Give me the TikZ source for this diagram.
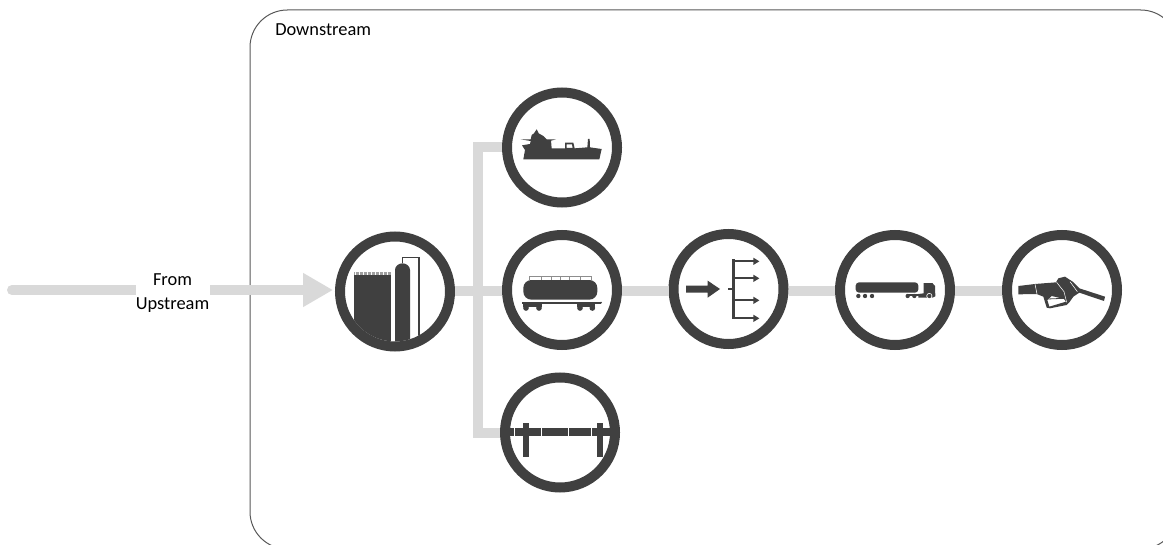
\documentclass[tikz,border=0pt]{standalone}
\usepackage{fontspec}
\setmainfont{Carlito}
\usetikzlibrary{arrows.meta,calc}
\definecolor{dk}{HTML}{404040}
\definecolor{flowc}{HTML}{D9D9D9}
\definecolor{boxc}{HTML}{595959}
\tikzset{
  px/.style={x=0.75pt,y=-0.75pt},
  zoomed/.style 2 args={shift={(#1,#2)},x=0.25pt,y=-0.25pt},
  ring/.style={circle,draw=dk,fill=white,line width=7.5pt,minimum size=82.5pt,inner sep=0pt,outer sep=3.75pt},
  flow/.style={draw=flowc,line width=7.5pt},
  lbl/.style={font=\fontsize{13.8}{17.5}\selectfont,text=black},
  ico/.style={fill=dk,draw=none},
  thinl/.style={draw=dk,line width=0.9pt},
}
\begin{document}
\begin{tikzpicture}[px]
\useasboundingbox (0,0) rectangle (1163,545);
\fill[white] (0,0) rectangle (1163,545);
% frame
\draw[boxc,line width=0.75pt,rounded corners=28pt] (250,10) rectangle (1178,549);
\node[lbl,anchor=west,inner sep=0pt] (down) at (275,30) {Downstream};
% rings
\node[ring] (ref) at (395,291.5) {};
\node[ring] (ship) at (562,147.5) {};
\node[ring] (rail) at (562,290) {};
\node[ring] (pipe) at (560,432.5) {};
\node[ring] (dist) at (728.5,289) {};
\node[ring] (truck) at (895,290) {};
\node[ring] (gun) at (1062,290) {};
% connectors
\coordinate (src) at (12,290);
\coordinate (jn) at (477.5,291);
\draw[flow,line cap=round,-{Triangle[length=22.5pt,width=24pt]},shorten >=1.5pt] (src) -- (ref.west |- src);
\node[lbl,fill=white,align=center,minimum width=55.5pt,inner sep=0pt] (up) at (172.5,293) {From\\Upstream};
\draw[flow] (ship.west) -- (ship.west -| jn) -- (pipe.west -| jn) -- (pipe.west);
\draw[flow] (ref.east |- jn) -- (rail.west |- jn);
\draw[flow] (rail.east |- jn) -- (dist.west |- jn);
\draw[flow] (dist.east |- jn) -- (truck.west |- jn);
\draw[flow] (truck.east |- jn) -- (gun.west |- jn);
% refinery
\begin{scope}[zoomed={320}{220}]
\clip (ref.center) circle (37.5pt);
\fill[ico] (103,165) rectangle (212,395);
\draw[dk!50,line width=1.8pt,dash pattern=on 0.5pt off 0.5pt] (103,160) -- (212,160);
\fill[ico] (225,395) -- (225,150) arc[start angle=180,end angle=360,x radius=22.5,y radius=20] -- (270,395) -- cycle;
\draw[thinl] (247,130) -- (247,112) -- (297,112) -- (297,395);
\end{scope}
% ship
\begin{scope}[zoomed={490}{70}]
\fill[ico,even odd rule] (92,208) -- (122,208) -- (125,195) -- (132,190) -- (140,178) -- (146,190) -- (160,198) -- (170,208) -- (198,208) -- (183,212) -- (185,235) -- (225,235) -- (225,218) -- (250,218) -- (254,235) -- (292,232) -- (294,207) -- (299,207) -- (300,232) -- (335,237) -- (328,268) -- (100,268) -- (105,240) -- (96,226) -- (120,222) -- (122,213) -- cycle
 (230,223) -- (246,223) -- (248,234) -- (230,234) -- cycle;
\end{scope}
% rail
\begin{scope}[zoomed={490}{225}]
\fill[ico,rounded corners=6pt] (100,165) rectangle (322,224);
\draw[dk!60,line width=0.4pt] (118,155) -- (305,155);
\foreach \x in {118,154,184,212,238,270,305} \draw[dk!60,line width=0.4pt] (\x,155) -- (\x,165);
\fill[ico] (95,230) rectangle (333,236);
\fill[ico] (333,233) circle[radius=3];
\foreach \x in {108,147,270,307} \fill[ico] (\x,249) circle[radius=8.5];
\fill[ico] (100,238) rectangle (155,247);
\fill[ico] (262,238) rectangle (315,247);
\end{scope}
% pipeline
\begin{scope}[zoomed={490}{370}]
\clip (pipe.center) circle (37.5pt);
\fill[ico] (55,175) rectangle (368,198);
\fill[ico] (100,160) rectangle (118,262);
\fill[ico] (320,160) rectangle (338,262);
\foreach \x in {73,153,235,305} \draw[white,line width=0.5pt] (\x,175) -- (\x,198);
\end{scope}
% distribution
\begin{scope}[zoomed={660}{225}]
\fill[ico] (78,182) -- (143,182) -- (143,167) -- (180,192) -- (143,218) -- (143,203) -- (78,203) -- cycle;
\fill[ico] (203,189) rectangle (222,196);
\fill[ico] (217,103) rectangle (224,283);
\foreach \y in {109,160,226,280} {
  \fill[ico] (220,\y-3) rectangle (282,\y+3);
  \fill[ico] (280,\y-11) -- (298,\y) -- (280,\y+11) -- cycle;
}
\end{scope}
% truck
\begin{scope}[zoomed={825}{225}]
\fill[ico,rounded corners=2.5pt] (92,172) rectangle (280,203);
\fill[ico] (296,174) -- (322,174) -- (330,183) -- (331,214) -- (322,218) -- (280,218) -- (280,207) -- (296,205) -- cycle;
\foreach \x in {100,120,141,248,268} \fill[ico] (\x,213) circle[radius=6.5];
\fill[ico] (248,207) rectangle (285,212);
\fill[white] (313,213) circle[radius=9];
\fill[ico] (313,213) circle[radius=6.5];
\end{scope}
% nozzle
\begin{scope}[zoomed={990}{225}]
\fill[ico,even odd rule] (85,183) -- (135,177) -- (198,172) -- (205,160) -- (225,155) -- (248,170) -- (268,190) -- (345,215) -- (342,228) -- (268,203) -- (250,215) -- (238,232) -- (230,240) -- (180,250) -- (170,248) -- (160,215) -- (140,207) -- (85,208) -- cycle
 (172,225) -- (185,213) -- (222,222) -- (228,230) -- (178,245) -- cycle;
\draw[dk,line width=0.6pt] (172,222) -- (222,220);
\draw[white,line width=0.4pt] (135,177) -- (141,207);
\draw[white,line width=0.4pt] (200,172) -- (222,200) -- (230,232);
\draw[white,line width=0.4pt] (240,170) -- (262,200);
\end{scope}
\end{tikzpicture}
\end{document}
